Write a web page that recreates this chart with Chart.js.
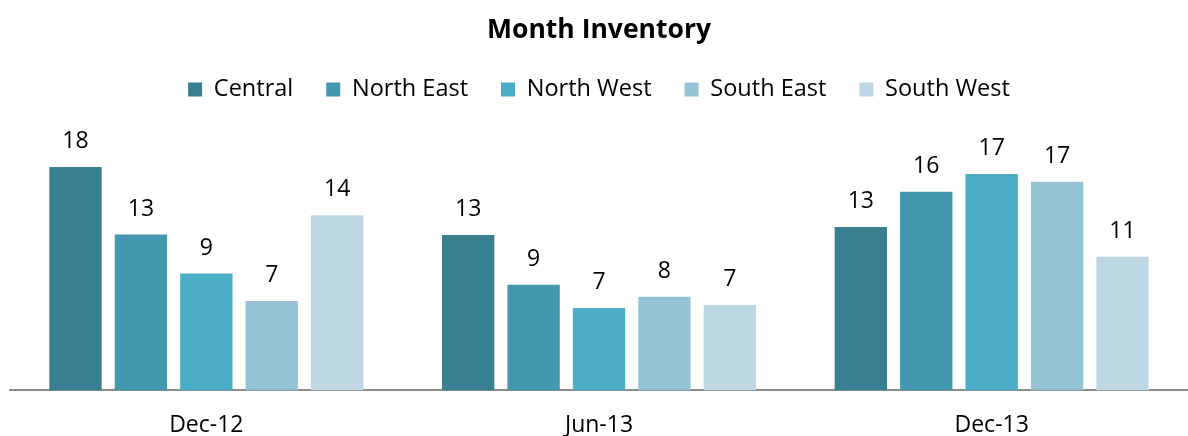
<!DOCTYPE html>
<html>
<head>
<meta charset="utf-8">
<script src="https://cdn.jsdelivr.net/npm/chart.js@4/dist/chart.umd.min.js"></script>
<style>
  html, body { margin: 0; padding: 0; background: #fff; overflow: hidden; }
  /* a bit taller than the window so the x axis sits where the reference has it */
  #wrap { width: 1188px; height: 460px; }
</style>
</head>
<body>
<div id="wrap"><canvas id="chart"></canvas></div>
<script>
const categories = ['Dec-12', 'Jun-13', 'Dec-13'];
const seriesNames = ['Central', 'North East', 'North West', 'South East', 'South West'];
const central = [18.0, 12.52, 13.18];
const northEast = [12.56, 8.51, 16.02];
const northWest = [9.42, 6.64, 17.45];
const southEast = [7.21, 7.54, 16.83];
const southWest = [14.12, 6.89, 10.78];
const colors = ['#377f91', '#4397ae', '#4badc6', '#94c3d4', '#bcd7e3'];

const fontFamily = '"Open Sans", sans-serif';

// draws the rounded value above each bar
const valueLabels = {
  id: 'valueLabels',
  afterDatasetsDraw(chart) {
    const ctx = chart.ctx;
    ctx.save();
    ctx.font = '23px ' + fontFamily;
    ctx.fillStyle = '#000';
    ctx.textAlign = 'center';
    ctx.textBaseline = 'alphabetic';
    chart.data.datasets.forEach((ds, i) => {
      const meta = chart.getDatasetMeta(i);
      meta.data.forEach((bar, j) => {
        ctx.fillText(Math.round(ds.data[j]), bar.x, bar.y - 19);
      });
    });
    ctx.restore();
  }
};

const allValues = [central, northEast, northWest, southEast, southWest];

const chart = new Chart('chart', {
  type: 'bar',
  data: {
    labels: categories,
    datasets: seriesNames.map((name, i) => ({
      label: name,
      data: allValues[i],
      backgroundColor: colors[i],
      borderWidth: 0,
      barPercentage: 0.8,
      categoryPercentage: 0.833,
    })),
  },
  options: {
    responsive: true,
    maintainAspectRatio: false,
    animation: false,
    layout: { padding: { left: 10, right: 0, top: 0, bottom: 0 } },
    plugins: {
      title: {
        display: true,
        text: 'Month Inventory',
        color: '#000',
        font: { family: fontFamily, size: 26.5, weight: 'bold' },
        padding: { top: 15, bottom: -2 },
      },
      legend: {
        display: true,
        position: 'top',
        labels: {
          color: '#000',
          boxWidth: 14,
          boxHeight: 14,
          padding: 33,
          font: { family: fontFamily, size: 23.5 },
        },
      },
      tooltip: { enabled: false },
    },
    scales: {
      x: {
        grid: { display: false, drawTicks: false },
        border: { display: true, color: '#8c8c8c', width: 2 },
        ticks: { color: '#000', padding: 21, font: { family: fontFamily, size: 23 } },
      },
      y: {
        display: false,
        min: 0,
        max: 22.5,
      },
    },
  },
  plugins: [valueLabels],
});
</script>
</body>
</html>
